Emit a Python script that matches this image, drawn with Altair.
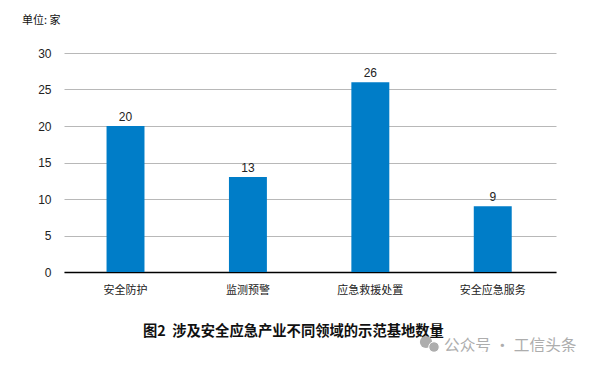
import altair as alt
import pandas as pd

categories = ["安全防护", "监测预警", "应急救援处置", "安全应急服务"]
values = [20, 13, 26, 9]
y_ticks = [0, 5, 10, 15, 20, 25, 30]
title_text = "图2\u00a0\u00a0涉及安全应急产业不同领域的示范基地数量"
unit_text = "单位: 家"
watermark_text = "公众号 · 工信头条"

FONT = "Noto Sans CJK SC"
LATIN = "Liberation Sans, Noto Sans CJK SC"

df = pd.DataFrame({"cat": categories, "val": values})
W, H = 492, 219

x = alt.X("cat:N", sort=categories,
          scale=alt.Scale(paddingInner=0.69, paddingOuter=0.3546, align=0.49),
          axis=alt.Axis(title=None, labelAngle=0, ticks=False, domainColor="#000000",
                        domainWidth=1.5, labelFont=FONT, labelFontSize=11,
                        labelColor="#222222", labelPadding=12))
y = alt.Y("val:Q", scale=alt.Scale(domain=[0, 30]),
          axis=alt.Axis(title=None, values=y_ticks, ticks=False, domain=False,
                        labelOverlap=False, gridColor="#b8b8b8", gridWidth=1,
                        labelFont=LATIN, labelFontSize=12, labelColor="#222222",
                        labelPadding=13))

bars = alt.Chart(df).mark_bar(color="#007dc8").encode(x=x, y=y)
labels = alt.Chart(df).mark_text(baseline="bottom", dy=-2, font=LATIN, fontSize=12,
                                 color="#222222").encode(x=x, y=y, text="val:Q")


def note(text, px, py, size, color, weight="normal", align="left"):
    return alt.Chart(pd.DataFrame({"t": [text]})).mark_text(
        align=align, baseline="middle", font=FONT, fontSize=size, color=color,
        fontWeight=weight).encode(x=alt.value(px), y=alt.value(py), text="t:N")


unit = note(unit_text, -42, -32, 11, "#111111")
title = note(title_text, 79, 279, 14.3, "#111111", weight="bold")
wm = note(watermark_text, 380, 293, 15.7, "#adadad")
icon1 = alt.Chart(pd.DataFrame({"a": [1]})).mark_point(
    filled=True, color="#adadad", opacity=1, size=150, shape="circle").encode(
    x=alt.value(362), y=alt.value(289))
icon2 = alt.Chart(pd.DataFrame({"a": [1]})).mark_point(
    filled=True, color="#adadad", opacity=1, size=110, shape="circle",
    stroke="#ffffff", strokeWidth=1).encode(
    x=alt.value(370), y=alt.value(294))

chart = (alt.layer(bars, labels, unit, title, icon1, icon2, wm)
         .properties(width=W, height=H,
                     autosize=alt.AutoSizeParams(type="none"),
                     background="#ffffff",
                     padding={"left": 56, "top": 45, "right": 32, "bottom": 80})
         .configure_view(stroke=None))

chart.save("out.html", embed_options={"renderer": "svg", "actions": False})
